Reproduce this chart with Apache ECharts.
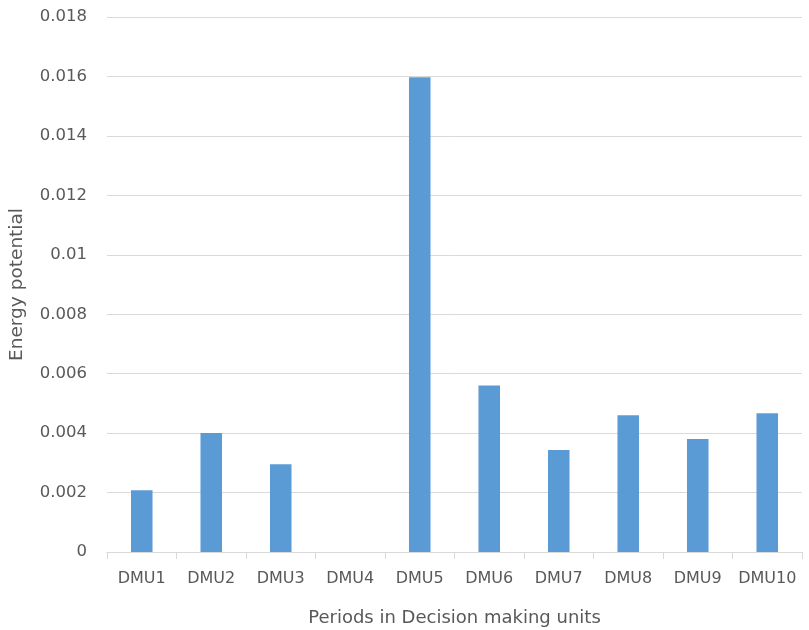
<!DOCTYPE html>
<html><head><meta charset="utf-8">
<script src="https://cdn.jsdelivr.net/npm/echarts@6/dist/echarts.min.js"></script>
<style>html,body{margin:0;padding:0;background:#fff}#c{width:809px;height:630px}</style>
</head><body><div id="c"></div>
<script>
const categories = ['DMU1','DMU2','DMU3','DMU4','DMU5','DMU6','DMU7','DMU8','DMU9','DMU10'];
const energyPotential = [0.00208, 0.0040, 0.00295, 0, 0.01597, 0.0056, 0.00343, 0.0046, 0.0038, 0.00467];
const xTitle = 'Periods in Decision making units';
const yTitle = 'Energy potential';
const FONT = 'DejaVu Sans';
const chart = echarts.init(document.getElementById('c'), null, {renderer:'canvas'});
chart.setOption({
  animation:false,
  grid:{left:107, right:7, top:17, bottom:78, containLabel:false, outerBoundsMode:'none'},
  xAxis:{
    type:'category', data:categories,
    axisLine:{lineStyle:{color:'#d9d9d9', width:1}},
    axisTick:{show:true, interval:0, length:7, lineStyle:{color:'#d9d9d9'}},
    axisLabel:{color:'#595959', fontFamily:FONT, fontSize:16, margin:19, interval:0},
    name:xTitle, nameLocation:'middle', nameGap:57,
    nameTextStyle:{color:'#595959', fontFamily:FONT, fontSize:18}
  },
  yAxis:{
    type:'value', min:0, max:0.018, interval:0.002,
    axisLine:{show:false}, axisTick:{show:false},
    splitLine:{lineStyle:{color:'#d9d9d9', width:1}},
    axisLabel:{color:'#595959', fontFamily:FONT, fontSize:16.5, margin:20,
      formatter: v => String(+v.toFixed(3))},
    name:yTitle, nameLocation:'middle', nameGap:80,
    nameTextStyle:{color:'#595959', fontFamily:FONT, fontSize:18.5}
  },
  series:[{type:'bar', data:energyPotential, barWidth:'31%',
    itemStyle:{color:'#5b9bd5'}}]
});
</script></body></html>
